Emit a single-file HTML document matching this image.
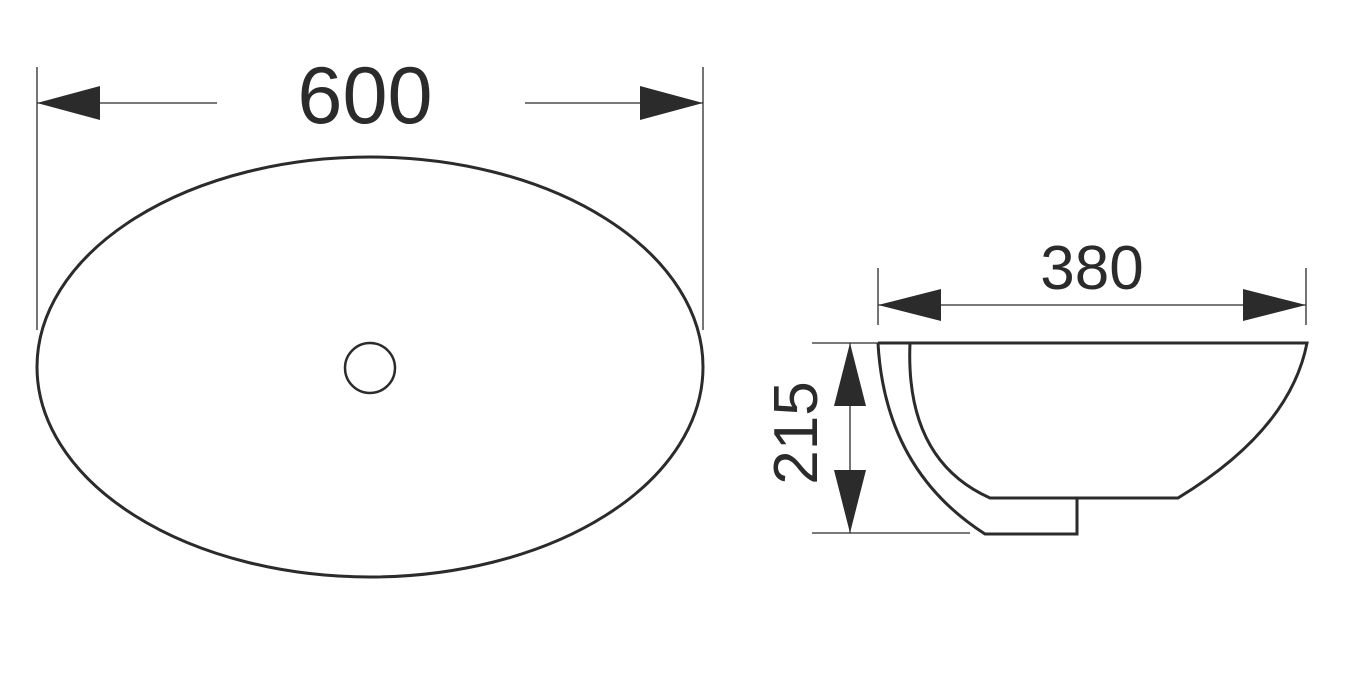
<!DOCTYPE html>
<html><head><meta charset="utf-8"><style>html,body{margin:0;padding:0;background:#fff}svg{display:block}</style></head>
<body>
<svg width="1352" height="675" viewBox="0 0 1352 675" xmlns="http://www.w3.org/2000/svg">
<g stroke="#2b2b2b" fill="none">
  <!-- top view -->
  <ellipse cx="370" cy="367" rx="333" ry="210" stroke-width="3"/>
  <circle cx="370" cy="368" r="25" stroke-width="2.5"/>
  <line x1="37" y1="67" x2="37" y2="330" stroke-width="1.3"/>
  <line x1="703" y1="67" x2="703" y2="330" stroke-width="1.3"/>
  <line x1="37" y1="103" x2="217" y2="103" stroke-width="1.3"/>
  <line x1="525" y1="103" x2="703" y2="103" stroke-width="1.3"/>
  <!-- side view -->
  <line x1="878" y1="268" x2="878" y2="325" stroke-width="1.3"/>
  <line x1="1306" y1="268" x2="1306" y2="325" stroke-width="1.3"/>
  <line x1="878" y1="305" x2="1306" y2="305" stroke-width="1.3"/>
  <line x1="812" y1="343" x2="880" y2="343" stroke-width="1.3"/>
  <line x1="812" y1="533" x2="970" y2="533" stroke-width="1.3"/>
  <line x1="850" y1="343" x2="850" y2="533" stroke-width="1.3"/>
  <path d="M878,343 L1307,343 Q1290,430 1178,498 L990,498 Q905,460 910,343" stroke-width="3"/>
  <path d="M878,343 Q885,470 985,534 L1077,534 L1077,498" stroke-width="3"/>
</g>
<g fill="#2b2b2b">
  <polygon points="37,103 100,86 100,120"/>
  <polygon points="703,103 640,86 640,120"/>
  <polygon points="878,305 941,289 941,321"/>
  <polygon points="1306,305 1243,289 1243,321"/>
  <polygon points="850,343 834,406 866,406"/>
  <polygon points="850,533 834,470 866,470"/>
</g>
<g font-family="Liberation Sans, Arial, sans-serif" fill="#2b2b2b">
  <text x="365" y="123" font-size="81" text-anchor="middle">600</text>
  <text x="1092" y="289" font-size="62" text-anchor="middle">380</text>
  <text transform="translate(817,433) rotate(-90)" font-size="62" text-anchor="middle">215</text>
</g>
</svg>
</body></html>
